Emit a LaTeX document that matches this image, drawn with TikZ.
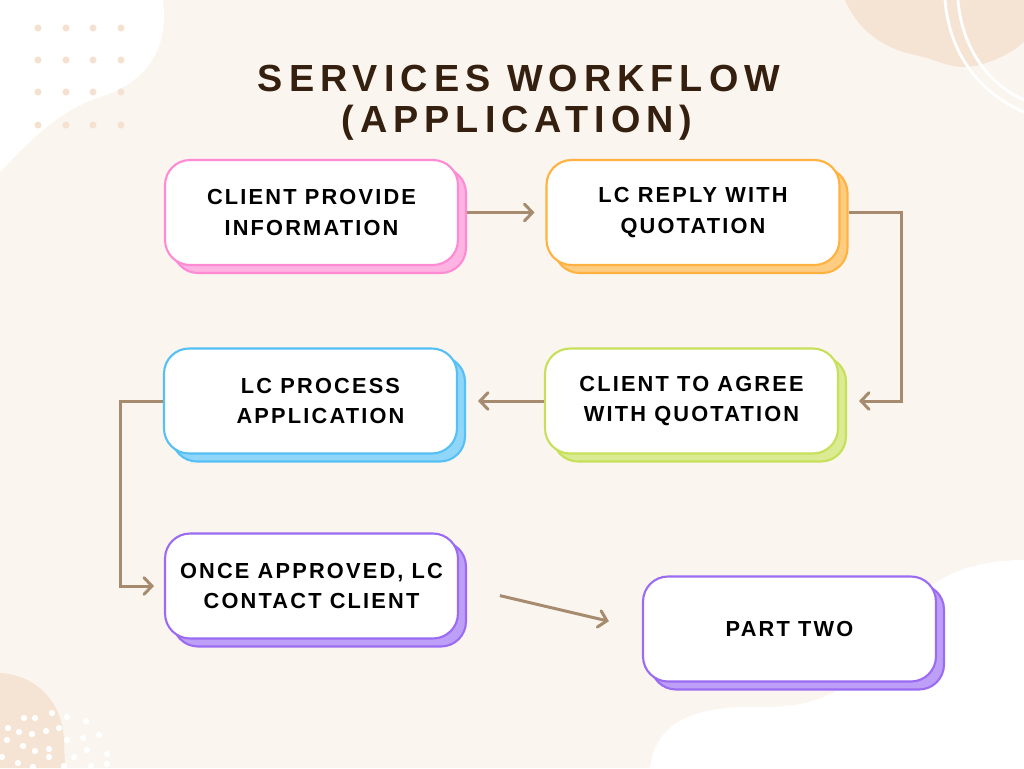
\documentclass[tikz,border=0pt]{standalone}
\usepackage{fontspec}
\usetikzlibrary{arrows.meta,shadows}
\setmainfont{Liberation Sans}
\newfontfamily\titlefont{Liberation Sans}[LetterSpace=16]
\newfontfamily\boxfont{Liberation Sans}[LetterSpace=10]

\definecolor{bgc}{HTML}{FAF5EF}
\definecolor{peach}{HTML}{F5E4D4}
\definecolor{dotc}{HTML}{F5E1CF}
\definecolor{titlec}{HTML}{35200F}
\definecolor{linkc}{HTML}{A68B6E}
\definecolor{pinkc}{HTML}{FF8AD4}
\definecolor{orangec}{HTML}{FFB23F}
\definecolor{greenc}{HTML}{C6E05A}
\definecolor{bluec}{HTML}{55C0F5}
\definecolor{purplec}{HTML}{9B6BF2}

\tikzset{
	stepbox/.style={draw=#1,line width=1.2pt,fill=white,rounded corners=0.5cm,
		minimum width=5.86cm,minimum height=2.1cm,align=center,
		font=\boxfont\bfseries\fontsize{12.4}{17.6}\selectfont,
		drop shadow={shadow xshift=0.16cm,shadow yshift=-0.16cm,fill=#1!65!white,draw=#1,opacity=1}},
	flowline/.style={draw=linkc,line width=1.7pt,-{Straight Barb[length=4.5pt,width=9.5pt,line cap=round]}},
}

\begin{document}
\begin{tikzpicture}[x=0.02cm,y=-0.02cm]
	\useasboundingbox (0,0) rectangle (1024,768);
	% background
	\fill[bgc] (0,0) rectangle (1024,768);
	\fill[white] (0,0) -- (163,0) .. controls (170,55) and (140,85) .. (100,97)
		.. controls (60,110) and (30,140) .. (0,172) -- cycle;
	\fill[peach] (845,0) .. controls (860,35) and (890,50) .. (915,55)
		.. controls (940,60) and (950,70) .. (975,66)
		.. controls (1000,60) and (1015,50) .. (1024,42) -- (1024,0) -- cycle;
	\draw[white,line width=1.6pt] (945,0) .. controls (950,60) and (985,95) .. (1024,112);
	\draw[white,line width=1.6pt] (958,0) .. controls (962,50) and (990,85) .. (1024,100);
	\fill[peach] (0,673) .. controls (35,675) and (62,700) .. (64,740) -- (65,768) -- (0,768) -- cycle;
	\fill[white] (650,768) .. controls (655,725) and (690,705) .. (760,707)
		.. controls (820,708) and (860,690) .. (900,620)
		.. controls (920,585) and (960,560) .. (1024,560) -- (1024,768) -- cycle;
	\foreach \x in {38,66,93,121}
		\foreach \y in {28,60,92,125}
			\fill[dotc] (\x,\y) circle (2pt);
	\foreach \x/\y in {24/718,35/718,52/713,67/717,86/721,8/728,19/732,32/734,46/731,59/728,
		99/735,7/740,67/740,83/738,23/746,35/751,49/749,87/750,107/754,2/757,49/757,
		74/757,18/763,33/767,64/766,91/766,107/764}
		\fill[white] (\x,\y) circle (1.8pt);

	% title
	\node[font=\titlefont\bfseries\fontsize{21.5}{23.2}\selectfont,text=titlec,anchor=base] (title1) at (519,91) {SERVICES WORKFLOW};
	\node[font=\titlefont\bfseries\fontsize{21.5}{23.2}\selectfont,text=titlec,anchor=base] (title2) at (517,132) {(APPLICATION)};

	% steps
	\node[stepbox=pinkc] (info) at (311.5,212.5) {CLIENT PROVIDE\\INFORMATION};
	\node[stepbox=orangec] (quote) at (693,212.5) {LC REPLY WITH\\QUOTATION};
	\node[stepbox=greenc] (agree) at (691.5,401) {CLIENT TO AGREE\\WITH QUOTATION};
	\node[stepbox=bluec] (process) at (310.5,401) {\hspace*{0.4cm}LC PROCESS\\\hspace*{0.4cm}APPLICATION};
	\node[stepbox=purplec] (contact) at (311.5,586) {ONCE APPROVED, LC\\CONTACT CLIENT};
	\node[stepbox=purplec] (part2) at (789.5,629) {PART TWO};

	% links
	\path[flowline,shorten <=0.16cm,shorten >=0.22cm] (info.east) -- (quote.west);
	\path[flowline,shorten <=0.16cm,shorten >=0.4cm] (quote.east) -- ++(61,0) |- (agree.east);
	\path[flowline,shorten >=0.4cm] (agree.west) -- (process.east);
	\path[flowline,shorten >=0.2cm] (process.west) -- ++(-42,0) |- (contact.west);
	\path[flowline,shorten <=0.84cm,shorten >=0.68cm] (contact.east) -- (part2.west);
\end{tikzpicture}
\end{document}
